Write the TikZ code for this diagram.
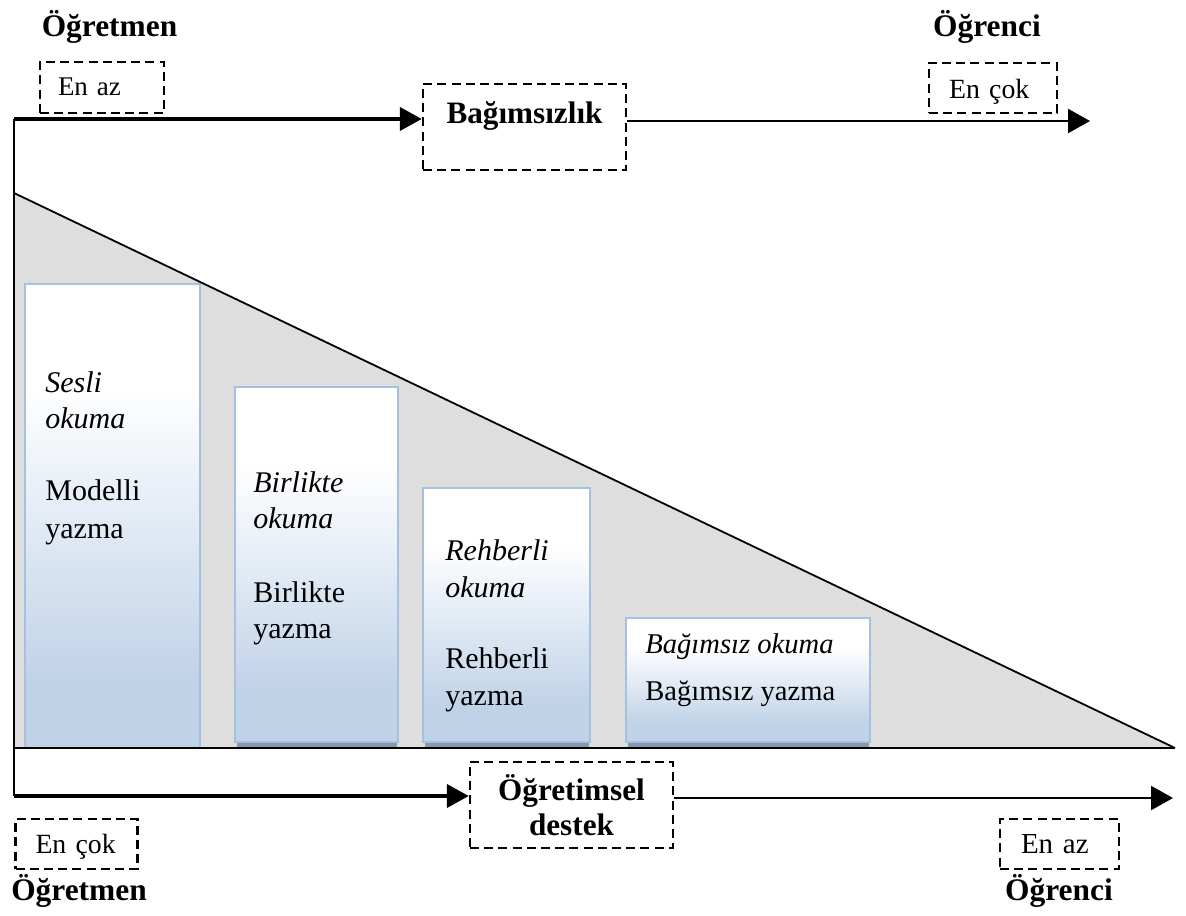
\documentclass[tikz,border=0pt]{standalone}
\usepackage{fontspec}
\setmainfont{Liberation Serif}
\usetikzlibrary{arrows.meta}
\definecolor{wedgegray}{RGB}{222,222,222}
\definecolor{boxblue}{RGB}{192,210,232}
\definecolor{boxedge}{RGB}{165,193,226}
\definecolor{bandblue}{RGB}{136,152,175}
\pgfdeclareverticalshading{boxfade}{100bp}{color(0bp)=(boxblue); color(32bp)=(boxblue); color(64bp)=(white); color(100bp)=(white)}

\begin{document}
\begin{tikzpicture}[x=0.5pt,y=-0.5pt,
  role/.style={font=\fontsize{15.7}{18}\selectfont\bfseries, inner sep=0pt, anchor=base},
  dbox/.style={draw, line width=1.2pt, dash pattern=on 4.5pt off 2.6pt, inner ysep=0pt},
  thick arrow/.style={line width=2pt, -{Triangle[length=11pt,width=11.5pt]}},
  thin arrow/.style={line width=1.2pt, -{Triangle[length=11pt,width=12pt]}},
  stepbox/.style={draw=boxedge, line width=0.8pt, shading=boxfade},
  footband/.style={fill=bandblue},
  ital/.style={font=\fontsize{15}{18}\selectfont\itshape, inner sep=0pt, anchor=base west},
  plain/.style={font=\fontsize{15}{18}\selectfont, inner sep=0pt, anchor=base west},
]
\useasboundingbox (0,0) rectangle (1186,915);

% wedge of decreasing teacher support
\coordinate (wa) at (14,193);
\coordinate (wb) at (14,748);
\coordinate (wc) at (1175,748);
\fill[wedgegray] (wa) -- (wc) -- (wb) -- cycle;

% stages
\shade[stepbox] (25,284) rectangle (200,748);
\fill[footband] (237,741) rectangle (397,748);
\shade[stepbox] (235,387) rectangle (398,742);
\fill[footband] (425,741) rectangle (589,748);
\shade[stepbox] (423,488) rectangle (590,742);
\fill[footband] (628,741) rectangle (869,748);
\shade[stepbox] (626,618) rectangle (870,742);

\draw[line width=0.9pt] (wa) -- (wc);
\draw[line width=1.4pt] (wb) -- (wc);

% stage texts
\node[ital]  (s1a) at (45,392) {Sesli};
\node[ital]  (s1b) at (45,428) {okuma};
\node[plain] (s1c) at (45,500) {Modelli};
\node[plain] (s1d) at (45,538) {yazma};

\node[ital]  (s2a) at (253,492) {Birlikte};
\node[ital]  (s2b) at (253,528) {okuma};
\node[plain] (s2c) at (253,602) {Birlikte};
\node[plain] (s2d) at (253,638) {yazma};

\node[ital]  (s3a) at (445,560) {Rehberli};
\node[ital]  (s3b) at (445,597) {okuma};
\node[plain] (s3c) at (445,668) {Rehberli};
\node[plain] (s3d) at (445,705) {yazma};

\node[ital,  font=\fontsize{14.3}{17}\selectfont\itshape] (s4a) at (645,653) {Bağımsız okuma};
\node[plain, font=\fontsize{14.3}{17}\selectfont] (s4b) at (645,700) {Bağımsız yazma};

% role labels
\node[role] (tteach) at (109.5,37) {Öğretmen};
\node[role] (tstud)  at (987,37)   {Öğrenci};
\node[role] (bteach) at (79,900)   {Öğretmen};
\node[role] (bstud)  at (1059,900) {Öğrenci};

% dashed boxes
\node[dbox, font=\fontsize{13.5}{16}\selectfont, inner xsep=9pt, text width=44pt, align=left,
      text height=17pt, text depth=8.5pt] (enazT) at (102,87.5) {\mbox{En az}};
\node[dbox, font=\fontsize{13.9}{16}\selectfont, inner xsep=10pt, text width=44pt, align=left,
      text height=17.5pt, text depth=7.5pt] (encokT) at (993,88) {\mbox{En çok}};
\node[dbox, font=\fontsize{15.6}{18}\selectfont\bfseries, inner xsep=0pt, minimum width=101.5pt,
      text height=19.5pt, text depth=23.5pt] (bag) at (524.5,127) {Bağımsızlık};
\node[dbox, font=\fontsize{15.6}{17.5}\selectfont\bfseries, inner xsep=0pt, minimum width=101.5pt,
      minimum height=43pt, align=center] (ogrd) at (571.5,805) {Öğretimsel\\destek};
\node[dbox, font=\fontsize{13.9}{16}\selectfont, inner xsep=10pt, text width=41pt, align=left,
      text height=17pt, text depth=8pt] (encokB) at (76.5,844) {\mbox{En çok}};
\node[dbox, font=\fontsize{14.5}{16}\selectfont, inner xsep=10.5pt, text width=38.5pt, align=left,
      text height=17pt, text depth=8pt] (enazB) at (1059.5,844) {\mbox{En az}};

% axes
\coordinate (tl) at (14,119);
\coordinate (bl) at (14,796);
\coordinate (tr) at (1090,121);
\coordinate (br) at (1173,798);
\draw[line width=1pt] (tl) -- (bl);
\draw[thick arrow] (tl) -- (tl -| bag.west);
\draw[thin arrow] (bag.east |- tr) -- (tr);
\draw[thick arrow] (bl) -- (bl -| ogrd.west);
\draw[thin arrow] (ogrd.east |- br) -- (br);
\end{tikzpicture}
\end{document}
